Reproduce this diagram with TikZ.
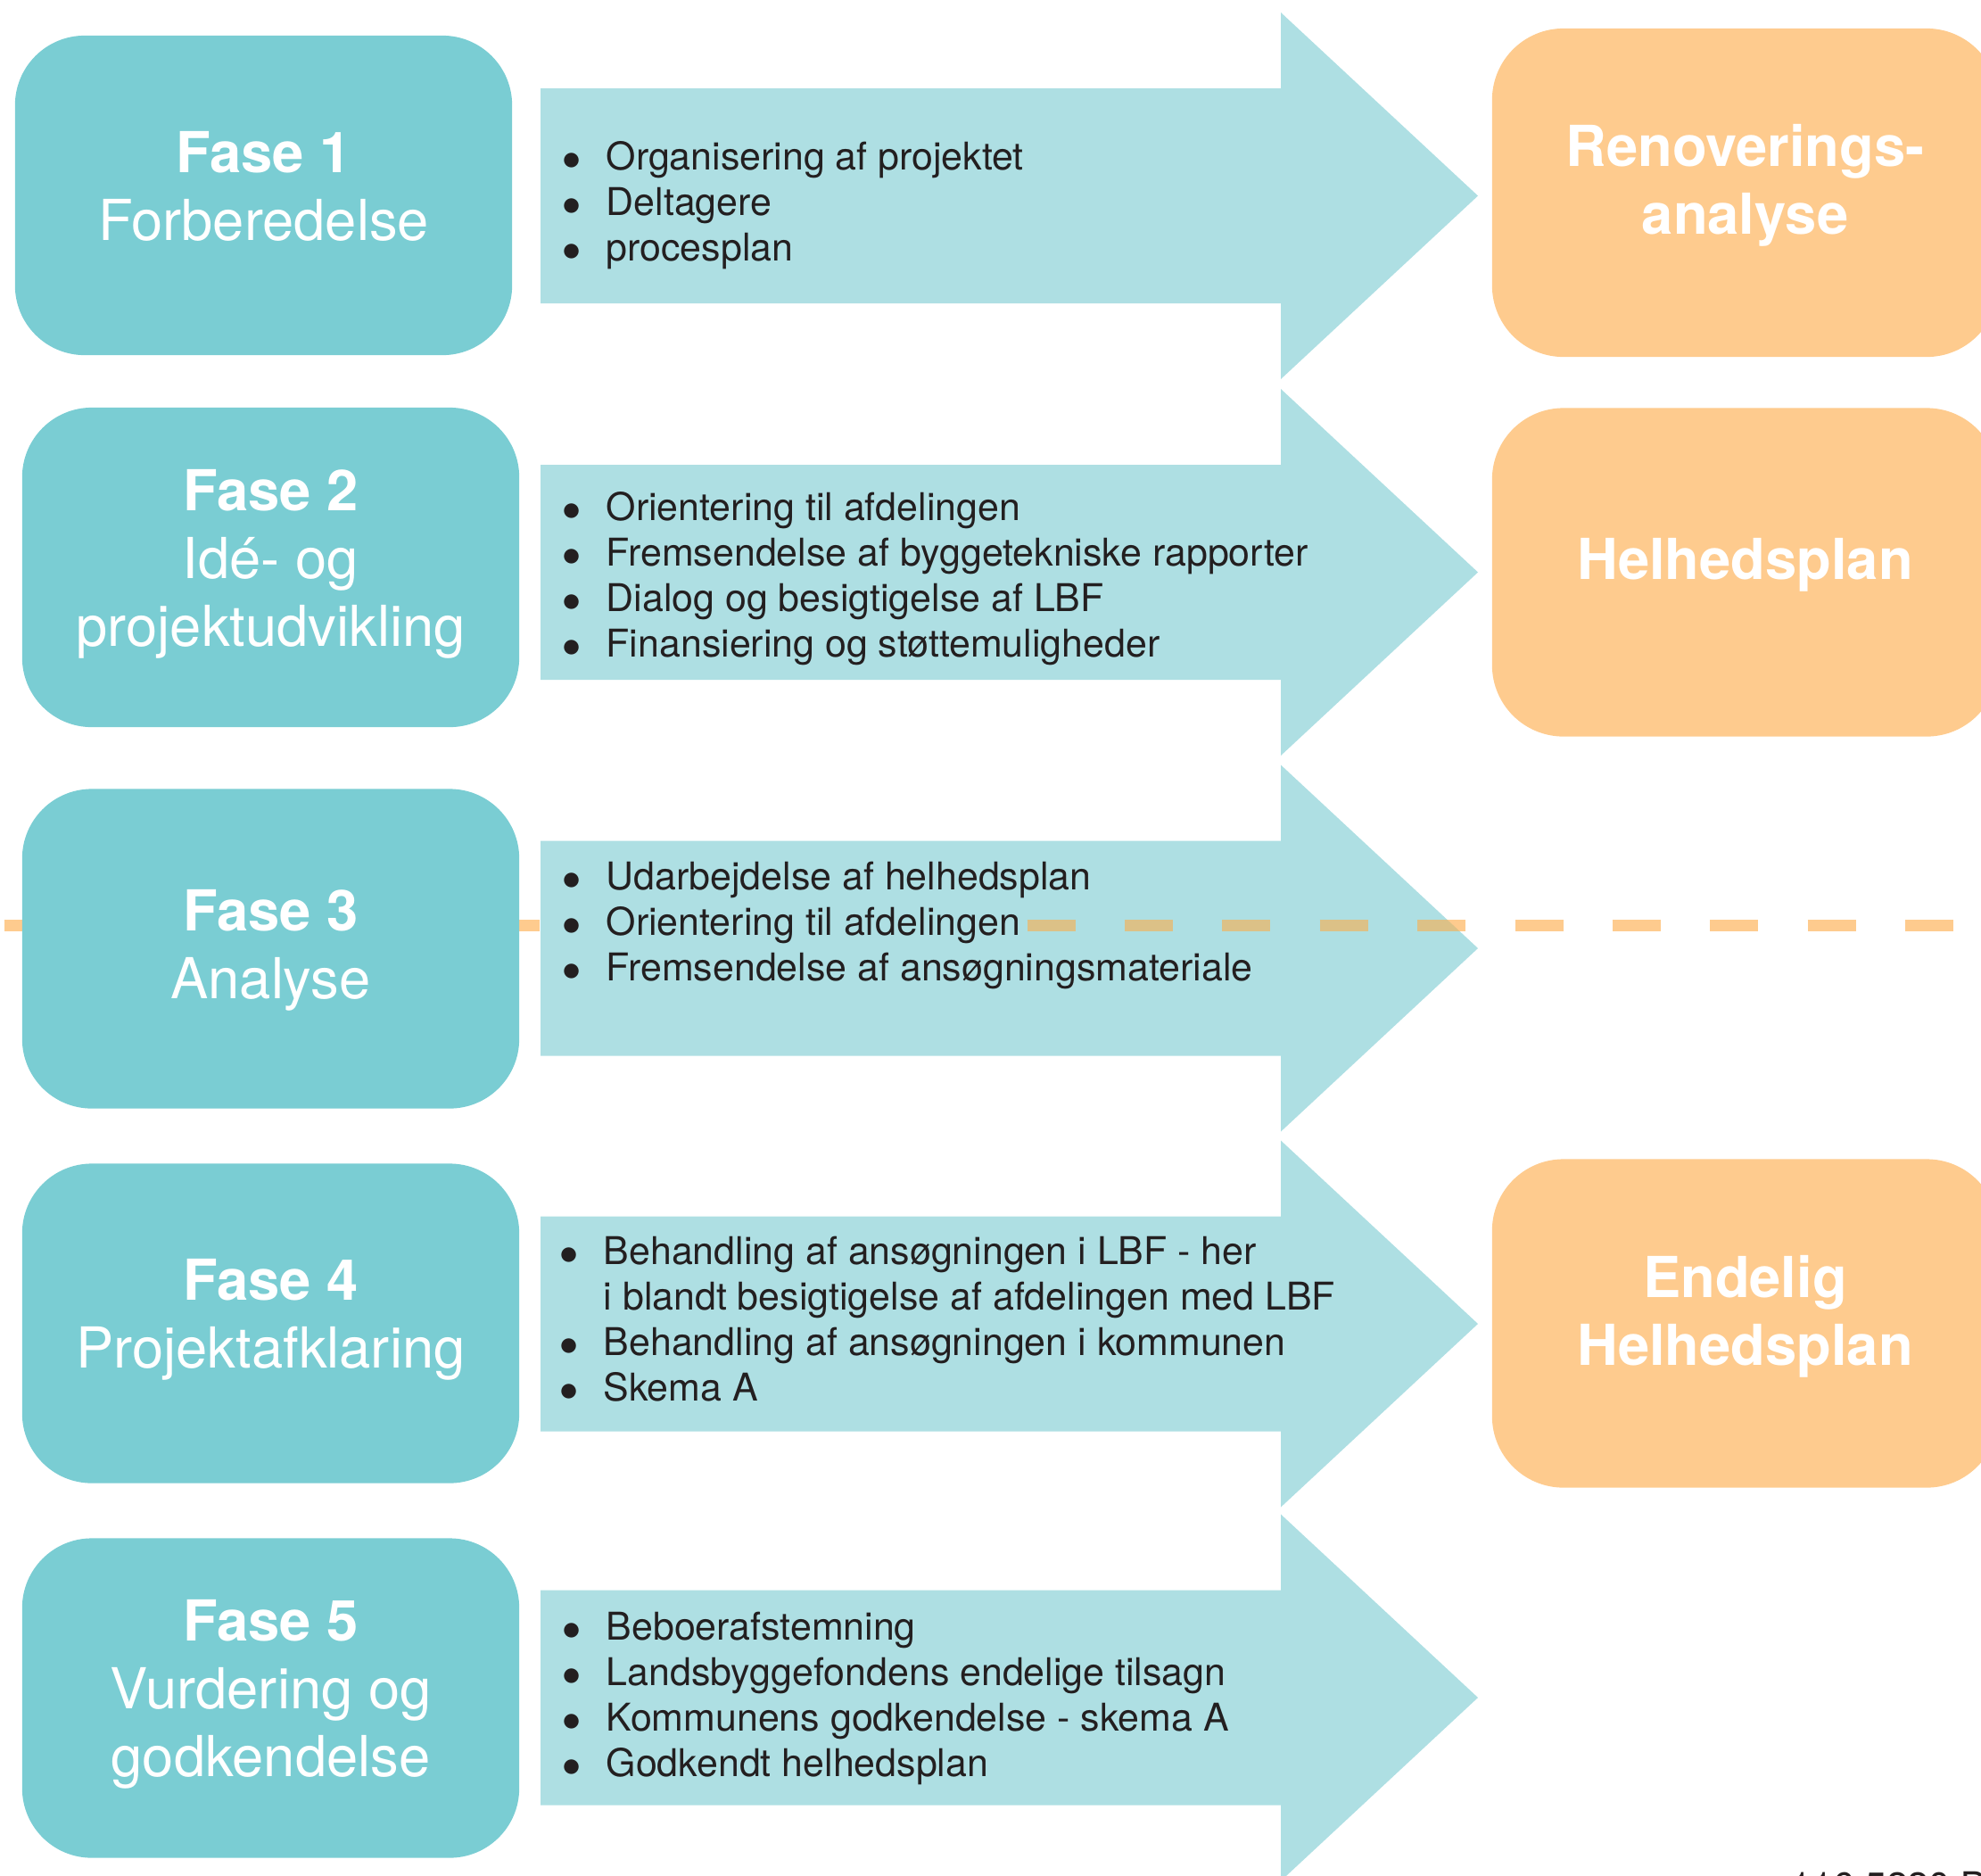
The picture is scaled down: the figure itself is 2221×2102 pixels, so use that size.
\documentclass[tikz,border=0pt]{standalone}
\usepackage{fontspec}
\setmainfont{TeX Gyre Heros}
\usepackage{xcolor}
\usepackage{tikz}

\definecolor{fasecol}{RGB}{122,205,211}
\definecolor{bandcol}{RGB}{174,223,227}
\definecolor{goalcol}{RGB}{254,203,142}
\definecolor{dashtan}{RGB}{220,193,135}
\definecolor{inkcol}{RGB}{35,31,32}

\newcommand{\itm}[1]{\makebox[0.49cm][l]{$\bullet$}#1}

\begin{document}
\begin{tikzpicture}[
    x=0.01cm, y=-0.01cm,
    fase/.style={rectangle, fill=fasecol, rounded corners=0.78cm, minimum width=5.57cm, minimum height=3.58cm, inner sep=0pt, text depth=0.22cm, align=center, text=white, font=\fontsize{18}{21.6}\selectfont},
    goal/.style={rectangle, fill=goalcol, rounded corners=0.8cm, minimum width=5.67cm, minimum height=3.68cm, inner sep=0pt, text depth=0.3cm, align=center, text=white, font=\fontsize{18}{21.6}\selectfont\bfseries},
    items/.style={anchor=base west, align=left, inner sep=0pt, text=inkcol, font=\fontsize{12.2}{14.5}\selectfont},
    dashline/.style={line width=0.13cm, dash pattern=on 0.54cm off 0.553cm}
]
    \useasboundingbox (0,0) rectangle (2221,2102);

    % Arrows
    \foreach \y in {219.5,641.5,1063,1484,1903}
        \fill[bandcol] (606,\y-120.5) -- (1436,\y-120.5) -- (1436,\y-205.5) -- (1657,\y)
            -- (1436,\y+205.5) -- (1436,\y+120.5) -- (606,\y+120.5) -- cycle;

    % Dashed line
    \coordinate (dashA) at (4.5,1037);
    \coordinate (dashB) at (606,1037);
    \coordinate (dashC) at (1151.7,1037);
    \coordinate (dashD) at (2193,1037);
    \draw[dashline, goalcol] (dashA) -- (dashB);
    \draw[dashline, goalcol] (dashC) -- (dashD);
    \begin{scope}
        \clip (606,942.5) -- (1436,942.5) -- (1436,857.5) -- (1657,1063)
            -- (1436,1268.5) -- (1436,1183.5) -- (606,1183.5) -- cycle;
        \draw[dashline, dashtan] (dashC) -- (dashD);
    \end{scope}

    % Nodes
    \node[fase] (fase1) at (295.5,219) {\textbf{Fase 1}\\Forberedelse};
    \node[fase] (fase2) at (303.5,636) {\textbf{Fase 2}\\Idé- og\\projektudvikling};
    \node[fase, text depth=0.1cm] (fase3) at (303.5,1063.5) {\textbf{Fase 3}\\Analyse};
    \node[fase] (fase4) at (303.5,1483.5) {\textbf{Fase 4}\\Projektafklaring};
    \node[fase] (fase5) at (303.5,1903.5) {\textbf{Fase 5}\\Vurdering og\\godkendelse};

    \node[goal] (renov) at (1956.5,216) {Renoverings-\\analyse};
    \node[goal] (helhed) at (1956.5,641.5) {Helhedsplan};
    \node[goal] (endelig) at (1956.5,1483.5) {Endelig\\Helhedsplan};

    % Lists (placed at the baseline of the last line)
    \node[items] (list1) at (630,292) {\itm{Organisering af projektet}\\\itm{Deltagere}\\\itm{procesplan}};
    \node[items] (list2) at (630,736) {\itm{Orientering til afdelingen}\\\itm{Fremsendelse af byggetekniske rapporter}\\\itm{Dialog og besigtigelse af LBF}\\\itm{Finansiering og støttemuligheder}};
    \node[items] (list3) at (630,1099) {\itm{Udarbejdelse af helhedsplan}\\\itm{Orientering til afdelingen}\\\itm{Fremsendelse af ansøgningsmateriale}};
    \node[items] (list4) at (627,1570) {\itm{Behandling af ansøgningen i LBF - her}\\\hspace*{0.49cm}i blandt besigtigelse af afdelingen med LBF\\\itm{Behandling af ansøgningen i kommunen}\\\itm{Skema A}};
    \node[items] (list5) at (630,1991) {\itm{Beboerafstemning}\\\itm{Landsbyggefondens endelige tilsagn}\\\itm{Kommunens godkendelse - skema A}\\\itm{Godkendt helhedsplan}};

    \node[anchor=north west, inner sep=0pt, text=inkcol, font=\fontsize{12.2}{14.5}\selectfont] (code) at (2007,2097) {116 5220 BC 4};
\end{tikzpicture}
\end{document}
